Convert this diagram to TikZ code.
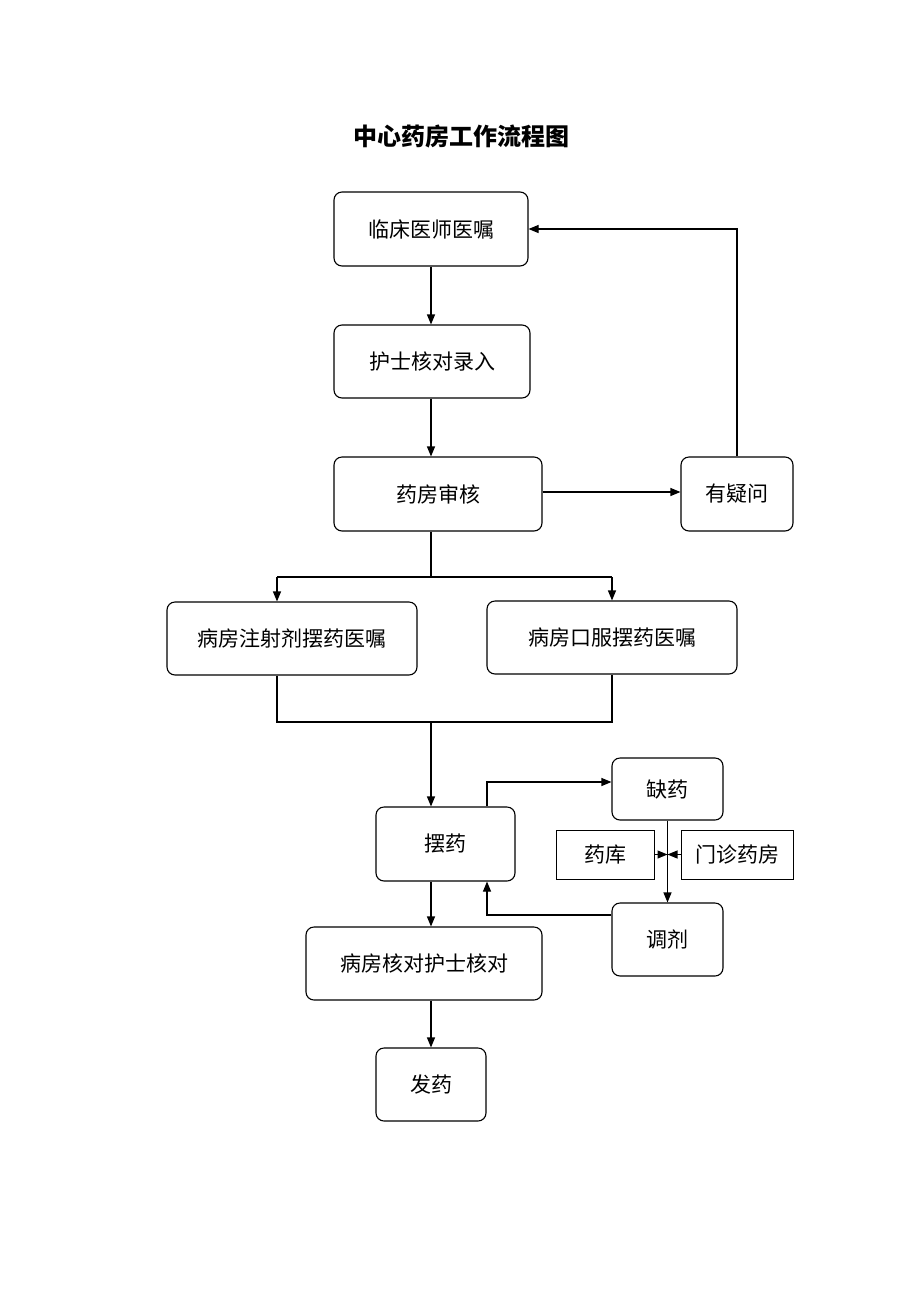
\documentclass[tikz,border=0pt]{standalone}
\usepackage{fontspec}
\newfontfamily\cjk{Noto Sans CJK SC}
\usetikzlibrary{arrows.meta}
\tikzset{
  rbox/.style={draw=black, line width=1.1pt, rounded corners=8pt, inner sep=0pt, font=\cjk\fontsize{21}{25}\selectfont},
  sbox/.style={draw=black, line width=1pt, inner sep=0pt, font=\cjk\fontsize{21}{25}\selectfont},
  link/.style={draw=black, line width=1.1pt},
  arr/.style={link, -{Triangle[length=10pt,width=8pt]}}
}
\begin{document}
\begin{tikzpicture}[x=1pt,y=-1pt]
\useasboundingbox[fill=white] (0,0) rectangle (920,1302);
\node[font=\cjk\bfseries\fontsize{24}{28}\selectfont] (title) at (461,136) {中心药房工作流程图};
\node[rbox, minimum width=194pt, minimum height=74pt] (a) at (431,229) {临床医师医嘱};
\node[rbox, minimum width=196pt, minimum height=73pt] (b) at (432,361.5) {护士核对录入};
\node[rbox, minimum width=208pt, minimum height=74pt] (c) at (438,494) {药房审核};
\node[rbox, minimum width=112pt, minimum height=74pt] (d) at (737,494) {有疑问};
\node[rbox, minimum width=250pt, minimum height=73pt] (e) at (292,638.5) {病房注射剂摆药医嘱};
\node[rbox, minimum width=250pt, minimum height=73pt] (f) at (612,637.5) {病房口服摆药医嘱};
\node[rbox, minimum width=139pt, minimum height=74pt] (g) at (445.5,844) {摆药};
\node[rbox, minimum width=111pt, minimum height=62pt] (h) at (667.5,789) {缺药};
\node[sbox, minimum width=98pt, minimum height=49pt] (i1) at (605,854.5) {药库};
\node[sbox, minimum width=112pt, minimum height=49pt] (i2) at (737,854.5) {门诊药房};
\node[rbox, minimum width=111pt, minimum height=73pt] (j) at (667.5,939.5) {调剂};
\node[rbox, minimum width=236pt, minimum height=73pt] (k) at (424,963.5) {病房核对护士核对};
\node[rbox, minimum width=110pt, minimum height=73pt] (l) at (431,1084.5) {发药};
\coordinate (sm) at (431,577);
\coordinate (sl) at (277,577);
\coordinate (sr) at (612,577);
\coordinate (ml) at (277,722);
\coordinate (mm) at (431,722);
\coordinate (mr) at (612,722);
\coordinate (gh) at (487,782);
\coordinate (jg) at (487,915);
\draw[arr] (a.south) -- (a.south |- b.north);
\draw[arr] (b.south -| a.south) -- (a.south |- c.north);
\draw[arr] (c.east |- 0,492) -- (d.west |- 0,492);
\draw[arr] (d.north) |- (a.east);
\draw[link] (c.south -| sm) -- (sm);
\draw[link] (sl) -- (sr);
\draw[arr] (sl) -- (sl |- e.north);
\draw[arr] (sr) -- (sr |- f.north);
\draw[link] (e.south -| ml) -- (ml) -- (mr) -- (f.south -| mr);
\draw[arr] (mm) -- (mm |- g.north);
\draw[arr] (gh |- g.north) -- (gh) -- (gh -| h.west);
\draw[arr] (h.south) -- (h.south |- j.north);
\draw[arr] (i1.east) -- (i1.east -| h.south);
\draw[arr] (i2.west) -- (i2.west -| h.south);
\draw[arr] (jg -| j.west) -- (jg) -- (jg |- g.south);
\draw[arr] (g.south -| mm) -- (mm |- k.north);
\draw[arr] (k.south -| l.north) -- (l.north);
\end{tikzpicture}
\end{document}
